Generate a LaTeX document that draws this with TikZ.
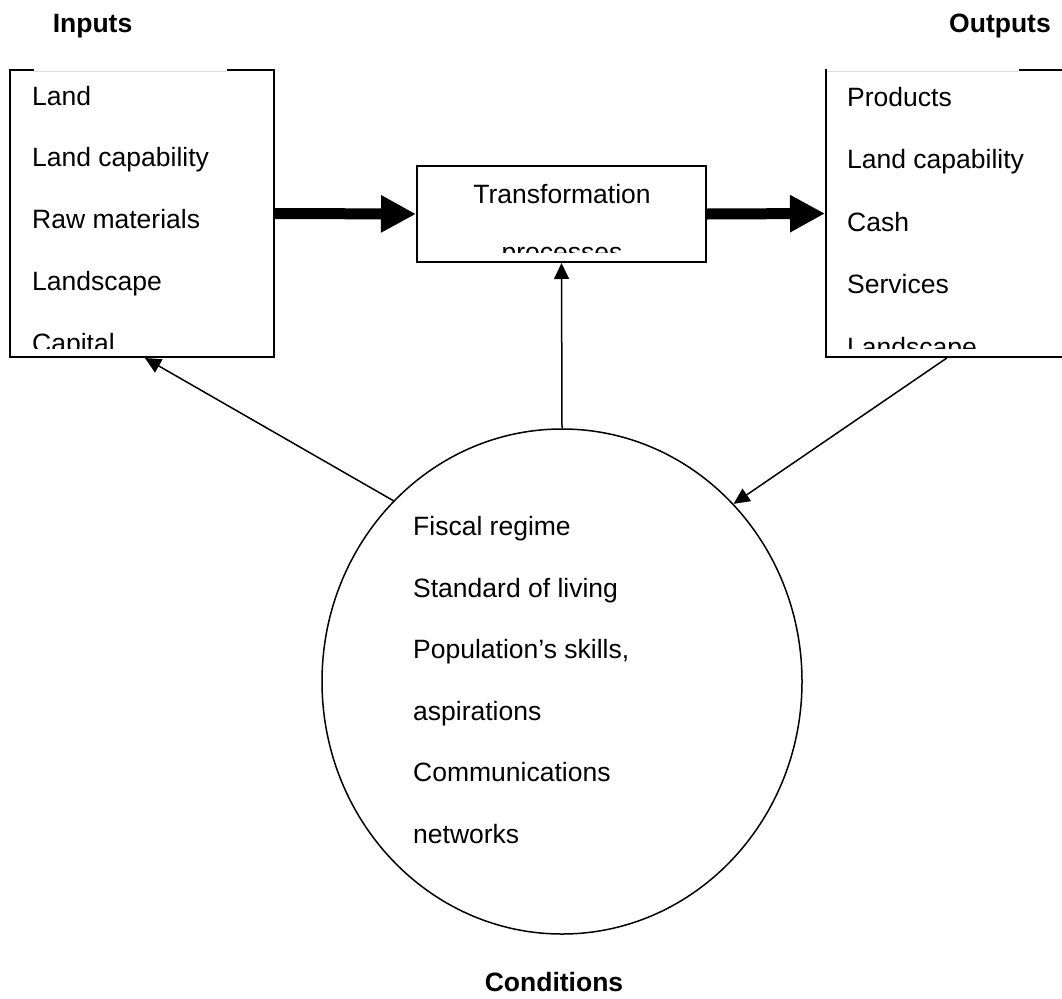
\documentclass[tikz,border=0pt]{standalone}
\usepackage{fontspec}
\setmainfont{Liberation Sans}
\usetikzlibrary{arrows.meta,shapes.geometric,calc}
\tikzset{
  boxline/.style={draw=black, line width=2pt, rectangle, inner sep=0pt},
  txt/.style={anchor=base west, inner sep=0pt, font=\fontsize{26.5}{26.5}\selectfont},
  ctxt/.style={anchor=base, inner sep=0pt, font=\fontsize{26.5}{26.5}\selectfont},
  headtxt/.style={anchor=base, inner sep=0pt, font=\fontsize{26.5}{26.5}\selectfont\bfseries},
  fatarrow/.style={line width=11pt, -{Triangle[length=35pt,width=35pt]}},
  thinarrow/.style={line width=1.5pt, -{Triangle[length=16pt,width=15pt]}},
  maskline/.style={draw=black!14, line width=1pt},
}
\begin{document}
\begin{tikzpicture}[x=1pt,y=-1pt]
\useasboundingbox (0,0) rectangle (1062,998);
\fill[white] (0,0) rectangle (1062,998);

% boxes
\node[boxline, minimum width=264pt, minimum height=287pt] (inbox) at (142,213.5) {};
\node[boxline, minimum width=264pt, minimum height=287pt] (outbox) at (958,213.5) {};
\node[boxline, minimum width=289pt, minimum height=96pt] (tbox) at (561.5,214) {};
\node[draw=black, line width=1.5pt, ellipse, minimum width=480pt, minimum height=505pt, inner sep=0pt] (cond) at (562,681.5) {};

% gaps in the top borders
\fill[white] (34,67) rectangle (227,74);
\draw[maskline] (34,71.5) -- (227,71.5);
\fill[white] (827.2,67) rectangle (1019,74);
\draw[maskline] (827.2,71.5) -- (1019,71.5);

% headings
\node[headtxt] (hin) at (92.5,33) {Inputs};
\node[headtxt] (hout) at (1000,33) {Outputs};
\node[headtxt] (hcond) at (554,991) {Conditions};

% inputs text
\begin{scope}
\clip (12,72) rectangle (272,348);
\node[txt] (in1) at (32,105) {Land};
\node[txt] (in2) at (32,166.75) {Land capability};
\node[txt] (in3) at (32,228.5) {Raw materials};
\node[txt] (in4) at (32,290.25) {Landscape};
\node[txt] (in5) at (32,352) {Capital};
\end{scope}

% outputs text
\begin{scope}
\clip (828,72) rectangle (1062,348);
\node[txt] (out1) at (847,106) {Products};
\node[txt] (out2) at (847,168.5) {Land capability};
\node[txt] (out3) at (847,231) {Cash};
\node[txt] (out4) at (847,293.5) {Services};
\node[txt] (out5) at (847,356) {Landscape};
\end{scope}

% transformation text
\node[ctxt] (t1) at (562,203) {Transformation};
\begin{scope}
\clip (420,168) rectangle (704,252);
\node[ctxt] (t2) at (562,261) {processes};
\end{scope}

% conditions text
\node[txt] (c1) at (413,535.5) {Fiscal regime};
\node[txt] (c2) at (413,597) {Standard of living};
\node[txt] (c3) at (413,658.5) {Population’s skills,};
\node[txt] (c4) at (413,720) {aspirations};
\node[txt] (c5) at (413,781.5) {Communications};
\node[txt] (c6) at (413,843) {networks};

% connectors
\draw[fatarrow] (inbox.east) -- (tbox.west);
\draw[fatarrow] (tbox.east) -- (outbox.west);
\draw[thinarrow] (cond.north) -- (tbox.south);
\draw[thinarrow] (cond.133.6) -- ($(inbox.south west)!0.511!(inbox.south east)$);
\draw[thinarrow] ($(outbox.south west)!0.458!(outbox.south east)$) -- (cond.46.5);
\end{tikzpicture}
\end{document}
